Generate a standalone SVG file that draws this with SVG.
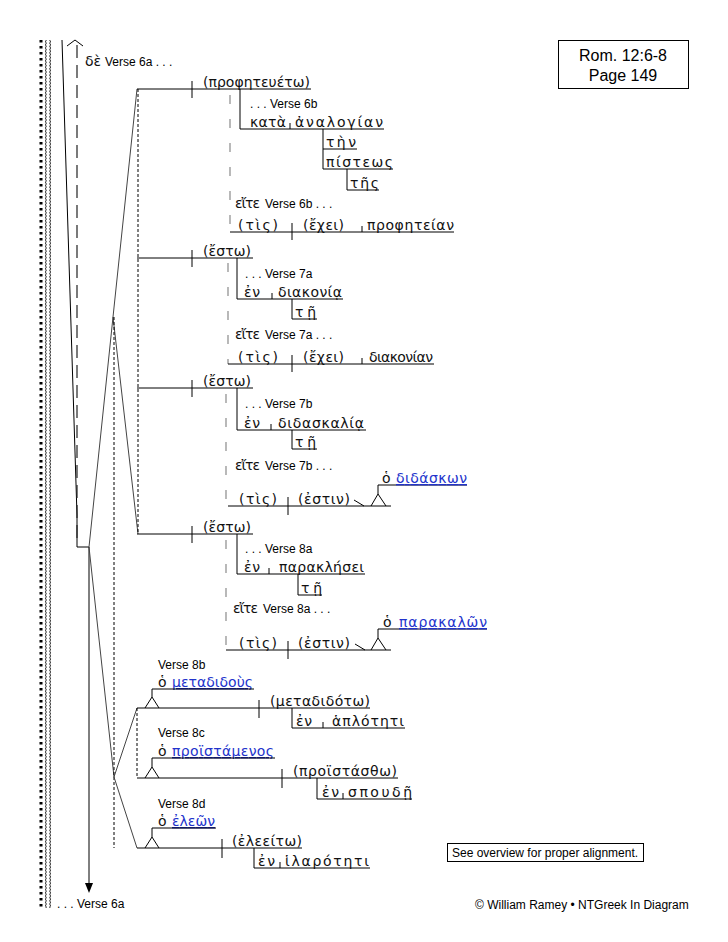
<svg xmlns="http://www.w3.org/2000/svg" width="728" height="942" viewBox="0 0 728 942">
<defs>
<style>
.g{font-family:"DejaVu Sans","Liberation Sans",sans-serif;font-size:14px;fill:#111}
.b{fill:#2233cc;text-decoration:underline}
.v{font-family:"Liberation Sans",Arial,sans-serif;font-size:12px;fill:#000}
.t{font-family:"Liberation Sans",Arial,sans-serif;font-size:16px;fill:#000}
.ln{stroke:#000;stroke-width:1;fill:none}
.sl{stroke:#444;stroke-width:1;fill:none}
.gd{stroke:#8a8a8a;stroke-width:1.2;fill:none;stroke-dasharray:9 15}
.dt{stroke:#000;stroke-width:1;fill:none;stroke-dasharray:3 2}
.ld{stroke:#222;stroke-width:1.2;fill:none;stroke-dasharray:13 7}
</style>
<pattern id="circ" x="0" y="0" width="6" height="3.2" patternUnits="userSpaceOnUse">
<circle cx="3" cy="1.6" r="1.3" fill="none" stroke="#000" stroke-width="0.7"/>
</pattern>
</defs>
<rect width="728" height="942" fill="#fff"/>

<g id="border">
<line x1="41" y1="40" x2="41" y2="908" stroke="#000" stroke-width="3" stroke-dasharray="2.5 3.5"/>
<rect x="45" y="40" width="6" height="868" fill="url(#circ)"/>
</g>

<g id="connectors">
<polyline class="ln" points="62,40 77,515 77,547 89,547"/>
<polyline class="ln" points="67,46 75,40 83,46"/>
<line class="ld" x1="77" y1="45" x2="77" y2="545"/>
<line class="ln" x1="89" y1="547" x2="89" y2="884"/>
<path d="M85,883 L93,883 L89,893 Z" fill="#000"/>
<polyline class="sl" points="137,89 113,317 89,547 114,777"/>
<line class="sl" x1="113" y1="317" x2="138" y2="534"/>
<line class="dt" x1="138" y1="89" x2="138" y2="534"/>
<line class="dt" x1="114" y1="317" x2="114" y2="848"/>
<polyline class="sl" points="137,708 114,777 137,848"/>
<line class="dt" x1="137" y1="708" x2="137" y2="778"/>
</g>

<g id="n-de">
<text class="g" x="85" y="66">δὲ</text>
<text class="v" x="105" y="66">Verse 6a . . .</text>
</g>

<g id="n-v6b">
<line class="ln" x1="137" y1="89" x2="311" y2="89"/>
<line class="ln" x1="192" y1="81" x2="192" y2="98"/>
<text class="g" x="203" y="87" textLength="107" lengthAdjust="spacing">(προφητευέτω)</text>
<line class="gd" x1="230" y1="95" x2="230" y2="232"/>
<polyline class="ln" points="240,89 240,129 384,129"/>
<text class="v" x="250" y="108">. . . Verse 6b</text>
<text class="g" x="250" y="127" textLength="36" lengthAdjust="spacing">κατὰ</text>
<line class="ln" x1="290" y1="123" x2="290" y2="129"/>
<text class="g" x="295" y="127" textLength="88" lengthAdjust="spacing">ἀναλογίαν</text>
<polyline class="ln" points="323,129 323,169 393,169"/>
<line class="ln" x1="323" y1="149" x2="357" y2="149"/>
<text class="g" x="326" y="147" textLength="30" lengthAdjust="spacing">τὴν</text>
<text class="g" x="326" y="167" textLength="67" lengthAdjust="spacing">πίστεως</text>
<polyline class="ln" points="347,169 347,190 379,190"/>
<text class="g" x="350" y="188" textLength="29" lengthAdjust="spacing">τῆς</text>
<text class="g" x="235" y="208" textLength="25" lengthAdjust="spacing">εἴτε</text>
<text class="v" x="265" y="208">Verse 6b . . .</text>
<line class="ln" x1="230" y1="232" x2="454" y2="232"/>
<line class="ln" x1="292" y1="223" x2="292" y2="240"/>
<line class="ln" x1="362" y1="226" x2="362" y2="232"/>
<text class="g" x="238" y="230" textLength="40" lengthAdjust="spacing">(τὶς)</text>
<text class="g" x="303" y="230" textLength="41" lengthAdjust="spacing">(ἔχει)</text>
<text class="g" x="367" y="230" textLength="87" lengthAdjust="spacing">προφητείαν</text>
</g>

<g id="n-v7a">
<line class="ln" x1="137" y1="258" x2="253" y2="258"/>
<line class="ln" x1="192" y1="250" x2="192" y2="267"/>
<text class="g" x="203" y="256" textLength="48" lengthAdjust="spacing">(ἔστω)</text>
<line class="gd" x1="228" y1="263" x2="228" y2="364"/>
<polyline class="ln" points="237,258 237,299 343,299"/>
<text class="v" x="245" y="278">. . . Verse 7a</text>
<text class="g" x="244" y="297" textLength="16" lengthAdjust="spacing">ἐν</text>
<line class="ln" x1="272" y1="293" x2="272" y2="299"/>
<text class="g" x="278" y="297" textLength="64" lengthAdjust="spacing">διακονίᾳ</text>
<polyline class="ln" points="292,299 292,319 317,319"/>
<text class="g" x="295" y="317" textLength="21" lengthAdjust="spacing">τῇ</text>
<text class="g" x="235" y="339" textLength="25" lengthAdjust="spacing">εἴτε</text>
<text class="v" x="265" y="339">Verse 7a . . .</text>
<line class="ln" x1="228" y1="364" x2="434" y2="364"/>
<line class="ln" x1="292" y1="355" x2="292" y2="372"/>
<line class="ln" x1="362" y1="358" x2="362" y2="364"/>
<text class="g" x="238" y="362" textLength="40" lengthAdjust="spacing">(τὶς)</text>
<text class="g" x="303" y="362" textLength="41" lengthAdjust="spacing">(ἔχει)</text>
<text class="g" x="369" y="362" textLength="64" lengthAdjust="spacing">διακονίαν</text>
</g>

<g id="n-v7b">
<line class="ln" x1="137" y1="388" x2="253" y2="388"/>
<line class="ln" x1="192" y1="380" x2="192" y2="397"/>
<text class="g" x="203" y="386" textLength="48" lengthAdjust="spacing">(ἔστω)</text>
<line class="gd" x1="226" y1="394" x2="226" y2="506"/>
<polyline class="ln" points="237,388 237,430 366,430"/>
<text class="v" x="245" y="408">. . . Verse 7b</text>
<text class="g" x="244" y="428" textLength="16" lengthAdjust="spacing">ἐν</text>
<line class="ln" x1="271" y1="424" x2="271" y2="430"/>
<text class="g" x="278" y="428" textLength="86" lengthAdjust="spacing">διδασκαλίᾳ</text>
<polyline class="ln" points="292,430 292,449 317,449"/>
<text class="g" x="295" y="447" textLength="21" lengthAdjust="spacing">τῇ</text>
<text class="g" x="235" y="470" textLength="25" lengthAdjust="spacing">εἴτε</text>
<text class="v" x="265" y="470">Verse 7b . . .</text>
<line class="ln" x1="228" y1="506" x2="391" y2="506"/>
<line class="ln" x1="288" y1="497" x2="288" y2="515"/>
<text class="g" x="239" y="504" textLength="38" lengthAdjust="spacing">(τὶς)</text>
<text class="g" x="298" y="504" textLength="52" lengthAdjust="spacing">(ἐστιν)</text>
<line class="ln" x1="354" y1="500" x2="364" y2="506"/>
<polyline class="ln" points="371,506 378,494 386,506"/>
<polyline class="ln" points="378,494 378,485 467,485"/>
<text class="g" x="382" y="483">ὁ</text>
<text class="g b" x="396" y="483" textLength="71" lengthAdjust="spacing">διδάσκων</text>
</g>

<g id="n-v8a">
<line class="ln" x1="137" y1="534" x2="253" y2="534"/>
<line class="ln" x1="192" y1="526" x2="192" y2="543"/>
<text class="g" x="203" y="532" textLength="48" lengthAdjust="spacing">(ἔστω)</text>
<line class="gd" x1="226" y1="540" x2="226" y2="650"/>
<polyline class="ln" points="237,534 237,574 365,574"/>
<text class="v" x="245" y="553">. . . Verse 8a</text>
<text class="g" x="244" y="572" textLength="16" lengthAdjust="spacing">ἐν</text>
<line class="ln" x1="269" y1="568" x2="269" y2="574"/>
<text class="g" x="279" y="572" textLength="85" lengthAdjust="spacing">παρακλήσει</text>
<polyline class="ln" points="298,574 298,595 322,595"/>
<text class="g" x="301" y="593" textLength="21" lengthAdjust="spacing">τῇ</text>
<text class="g" x="233" y="613" textLength="25" lengthAdjust="spacing">εἴτε</text>
<text class="v" x="263" y="613">Verse 8a . . .</text>
<line class="ln" x1="226" y1="650" x2="391" y2="650"/>
<line class="ln" x1="288" y1="641" x2="288" y2="659"/>
<text class="g" x="239" y="648" textLength="38" lengthAdjust="spacing">(τὶς)</text>
<text class="g" x="298" y="648" textLength="52" lengthAdjust="spacing">(ἐστιν)</text>
<line class="ln" x1="355" y1="644" x2="365" y2="650"/>
<polyline class="ln" points="371,650 378,638 386,650"/>
<polyline class="ln" points="378,638 378,629 487,629"/>
<text class="g" x="383" y="627">ὁ</text>
<text class="g b" x="399" y="627" textLength="88" lengthAdjust="spacing">παρακαλῶν</text>
</g>

<g id="n-v8b">
<text class="v" x="158" y="669">Verse 8b</text>
<text class="g" x="158" y="687">ὁ</text>
<text class="g b" x="172" y="687" textLength="81" lengthAdjust="spacing">μεταδιδοὺς</text>
<polyline class="ln" points="254,689 152,689 152,697"/>
<polyline class="ln" points="145,708 152,697 159,708"/>
<line class="ln" x1="137" y1="708" x2="370" y2="708"/>
<line class="ln" x1="259" y1="700" x2="259" y2="718"/>
<text class="g" x="270" y="706" textLength="100" lengthAdjust="spacing">(μεταδιδότω)</text>
<polyline class="ln" points="292,708 292,728 405,728"/>
<text class="g" x="296" y="726" textLength="16" lengthAdjust="spacing">ἐν</text>
<line class="ln" x1="323" y1="722" x2="323" y2="728"/>
<text class="g" x="332" y="726" textLength="72" lengthAdjust="spacing">ἁπλότητι</text>
</g>

<g id="n-v8c">
<text class="v" x="158" y="737">Verse 8c</text>
<text class="g" x="158" y="756">ὁ</text>
<text class="g b" x="172" y="756" textLength="102" lengthAdjust="spacing">προϊστάμενος</text>
<polyline class="ln" points="275,758 152,758 152,767"/>
<polyline class="ln" points="145,778 152,767 159,778"/>
<line class="ln" x1="137" y1="778" x2="398" y2="778"/>
<line class="ln" x1="282" y1="769" x2="282" y2="788"/>
<text class="g" x="293" y="776" textLength="104" lengthAdjust="spacing">(προϊστάσθω)</text>
<polyline class="ln" points="317,778 317,799 412,799"/>
<text class="g" x="322" y="797" textLength="17" lengthAdjust="spacing">ἐν</text>
<line class="ln" x1="343" y1="793" x2="343" y2="799"/>
<text class="g" x="348" y="797" textLength="64" lengthAdjust="spacing">σπουδῇ</text>
</g>

<g id="n-v8d">
<text class="v" x="158" y="808">Verse 8d</text>
<text class="g" x="158" y="826">ὁ</text>
<text class="g b" x="172" y="826" textLength="43" lengthAdjust="spacing">ἐλεῶν</text>
<polyline class="ln" points="216,828 152,828 152,837"/>
<polyline class="ln" points="145,848 152,837 159,848"/>
<line class="ln" x1="137" y1="848" x2="302" y2="848"/>
<line class="ln" x1="222" y1="839" x2="222" y2="858"/>
<text class="g" x="232" y="846" textLength="70" lengthAdjust="spacing">(ἐλεείτω)</text>
<polyline class="ln" points="254,848 254,868 370,868"/>
<text class="g" x="258" y="866" textLength="17" lengthAdjust="spacing">ἐν</text>
<line class="ln" x1="280" y1="862" x2="280" y2="868"/>
<text class="g" x="285" y="866" textLength="84" lengthAdjust="spacing">ἱλαρότητι</text>
</g>

<g id="n-end">
<text class="v" x="57" y="908">. . . Verse 6a</text>
</g>

<g id="ref-box">
<rect x="558.500" y="40.500" width="130" height="48" fill="none" stroke="#000" stroke-width="1"/>
<text class="t" x="623" y="61" text-anchor="middle">Rom. 12:6-8</text>
<text class="t" x="623" y="81" text-anchor="middle">Page 149</text>
</g>

<g id="note-box">
<rect x="447.500" y="843.500" width="196" height="18" fill="none" stroke="#000" stroke-width="1"/>
<text class="v" x="452" y="857">See overview for proper alignment.</text>
</g>

<text class="v" x="475" y="909">© William Ramey • NTGreek In Diagram</text>
</svg>
